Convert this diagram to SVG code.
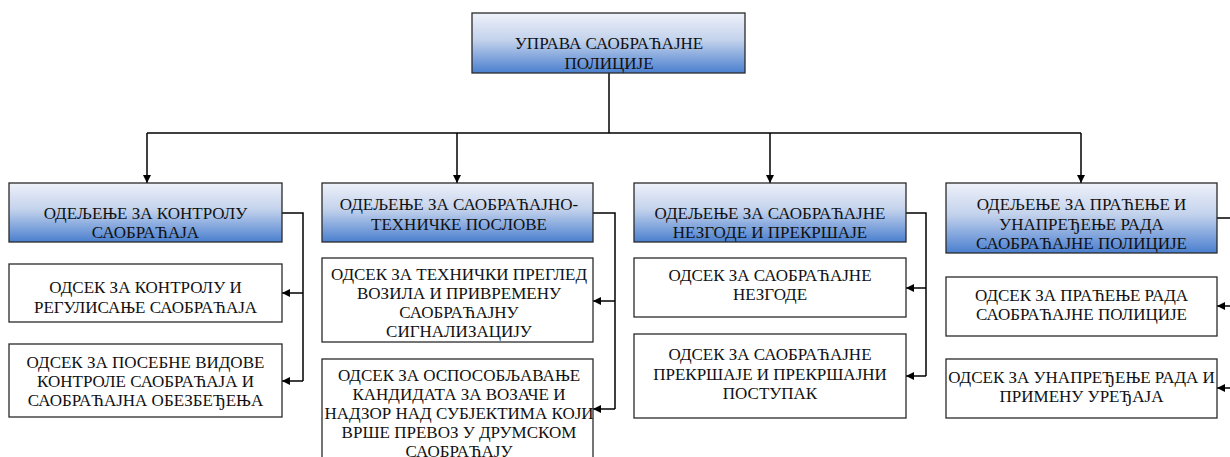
<svg xmlns="http://www.w3.org/2000/svg" width="1230" height="457" viewBox="0 0 1230 457">
<style>
.hd{stroke:#2a2a2a;stroke-width:1.3;fill:url(#g)}
.bx{stroke:#2a2a2a;stroke-width:1.3;fill:#fff}
.t{font-family:"Liberation Serif","Times New Roman",serif;font-size:17px;fill:#111;text-anchor:middle}
.c{fill:none;stroke:#000;stroke-width:1.5}
</style>
<defs>
<linearGradient id="g" x1="0" y1="0" x2="0" y2="1">
<stop offset="0" stop-color="#eef1f9"/>
<stop offset="0.45" stop-color="#c3d2ec"/>
<stop offset="1" stop-color="#4a7fcf"/>
</linearGradient>
<marker id="a" viewBox="0 0 10 10" refX="10" refY="5" markerWidth="8" markerHeight="8" markerUnits="userSpaceOnUse" orient="auto">
<path d="M0,0 L10,5 L0,10 z" fill="#000"/>
</marker>
</defs>
<rect width="1230" height="457" fill="#fff"/>

<g id="connectors">
<path class="c" d="M609,73 V133"/>
<path class="c" d="M147,133 H1081"/>
<path class="c" d="M147,133 V183" marker-end="url(#a)"/>
<path class="c" d="M457,133 V183" marker-end="url(#a)"/>
<path class="c" d="M770,133 V183" marker-end="url(#a)"/>
<path class="c" d="M1081,133 V183" marker-end="url(#a)"/>
<path class="c" d="M282,213 H303 V381"/>
<path class="c" d="M303,293 H282" marker-end="url(#a)"/>
<path class="c" d="M303,381 H282" marker-end="url(#a)"/>
<path class="c" d="M593,213 H615 V409"/>
<path class="c" d="M615,301 H593" marker-end="url(#a)"/>
<path class="c" d="M615,409 H593" marker-end="url(#a)"/>
<path class="c" d="M906,213 H926 V376"/>
<path class="c" d="M926,288 H906" marker-end="url(#a)"/>
<path class="c" d="M926,376 H906" marker-end="url(#a)"/>
<path class="c" d="M1217,218 H1240 V388"/>
<path class="c" d="M1240,306 H1217" marker-end="url(#a)"/>
<path class="c" d="M1240,388 H1217" marker-end="url(#a)"/>
</g>

<g id="n0">
<rect class="hd" x="472" y="13" width="273" height="60"/>
<text class="t" x="609" y="49">УПРАВА САОБРАЋАЈНЕ</text>
<text class="t" x="609" y="69">ПОЛИЦИЈЕ</text>
</g>

<g id="n1">
<rect class="hd" x="9" y="183" width="273" height="59"/>
<text class="t" x="145.5" y="219">ОДЕЉЕЊЕ ЗА КОНТРОЛУ</text>
<text class="t" x="145.5" y="238">САОБРАЋАЈА</text>
</g>
<g id="n1a">
<rect class="bx" x="9" y="264" width="273" height="58"/>
<text class="t" x="145.5" y="293">ОДСЕК ЗА КОНТРОЛУ И</text>
<text class="t" x="145.5" y="313">РЕГУЛИСАЊЕ САОБРАЋАЈА</text>
</g>
<g id="n1b">
<rect class="bx" x="9" y="344" width="273" height="73"/>
<text class="t" x="145.5" y="368">ОДСЕК ЗА ПОСЕБНЕ ВИДОВЕ</text>
<text class="t" x="145.5" y="387">КОНТРОЛЕ САОБРАЋАЈА И</text>
<text class="t" x="145.5" y="406">САОБРАЋАЈНА ОБЕЗБЕЂЕЊА</text>
</g>

<g id="n2">
<rect class="hd" x="322" y="183" width="271" height="59"/>
<text class="t" x="459" y="210">ОДЕЉЕЊЕ ЗА САОБРАЋАЈНО-</text>
<text class="t" x="459" y="230">ТЕХНИЧКЕ ПОСЛОВЕ</text>
</g>
<g id="n2a">
<rect class="bx" x="322" y="258" width="271" height="84"/>
<text class="t" x="459" y="280">ОДСЕК ЗА ТЕХНИЧКИ ПРЕГЛЕД</text>
<text class="t" x="459" y="299">ВОЗИЛА И ПРИВРЕМЕНУ</text>
<text class="t" x="459" y="318">САОБРАЋАЈНУ</text>
<text class="t" x="459" y="337">СИГНАЛИЗАЦИЈУ</text>
</g>
<g id="n2b">
<rect class="bx" x="322" y="359" width="271" height="110"/>
<text class="t" x="459" y="381">ОДСЕК ЗА ОСПОСОБЉАВАЊЕ</text>
<text class="t" x="459" y="400">КАНДИДАТА ЗА ВОЗАЧЕ И</text>
<text class="t" x="459" y="419">НАДЗОР НАД СУБЈЕКТИМА КОЈИ</text>
<text class="t" x="459" y="438">ВРШЕ ПРЕВОЗ У ДРУМСКОМ</text>
<text class="t" x="459" y="457">САОБРАЋАЈУ</text>
</g>

<g id="n3">
<rect class="hd" x="634" y="183" width="272" height="59"/>
<text class="t" x="770" y="219">ОДЕЉЕЊЕ ЗА САОБРАЋАЈНЕ</text>
<text class="t" x="770" y="238">НЕЗГОДЕ И ПРЕКРШАЈЕ</text>
</g>
<g id="n3a">
<rect class="bx" x="634" y="258" width="272" height="59"/>
<text class="t" x="770" y="281">ОДСЕК ЗА САОБРАЋАЈНЕ</text>
<text class="t" x="770" y="300">НЕЗГОДЕ</text>
</g>
<g id="n3b">
<rect class="bx" x="634" y="334" width="272" height="84"/>
<text class="t" x="770" y="360">ОДСЕК ЗА САОБРАЋАЈНЕ</text>
<text class="t" x="770" y="380">ПРЕКРШАЈЕ И ПРЕКРШАЈНИ</text>
<text class="t" x="770" y="399">ПОСТУПАК</text>
</g>

<g id="n4">
<rect class="hd" x="946" y="183" width="271" height="70"/>
<text class="t" x="1081.5" y="210">ОДЕЉЕЊЕ ЗА ПРАЋЕЊЕ И</text>
<text class="t" x="1081.5" y="230">УНАПРЕЂЕЊЕ РАДА</text>
<text class="t" x="1081.5" y="249">САОБРАЋАЈНЕ ПОЛИЦИЈЕ</text>
</g>
<g id="n4a">
<rect class="bx" x="946" y="277" width="271" height="59"/>
<text class="t" x="1081.5" y="301">ОДСЕК ЗА ПРАЋЕЊЕ РАДА</text>
<text class="t" x="1081.5" y="320">САОБРАЋАЈНЕ ПОЛИЦИЈЕ</text>
</g>
<g id="n4b">
<rect class="bx" x="946" y="359" width="271" height="59"/>
<text class="t" x="1081.5" y="383">ОДСЕК ЗА УНАПРЕЂЕЊЕ РАДА И</text>
<text class="t" x="1081.5" y="402">ПРИМЕНУ УРЕЂАЈА</text>
</g>
</svg>
